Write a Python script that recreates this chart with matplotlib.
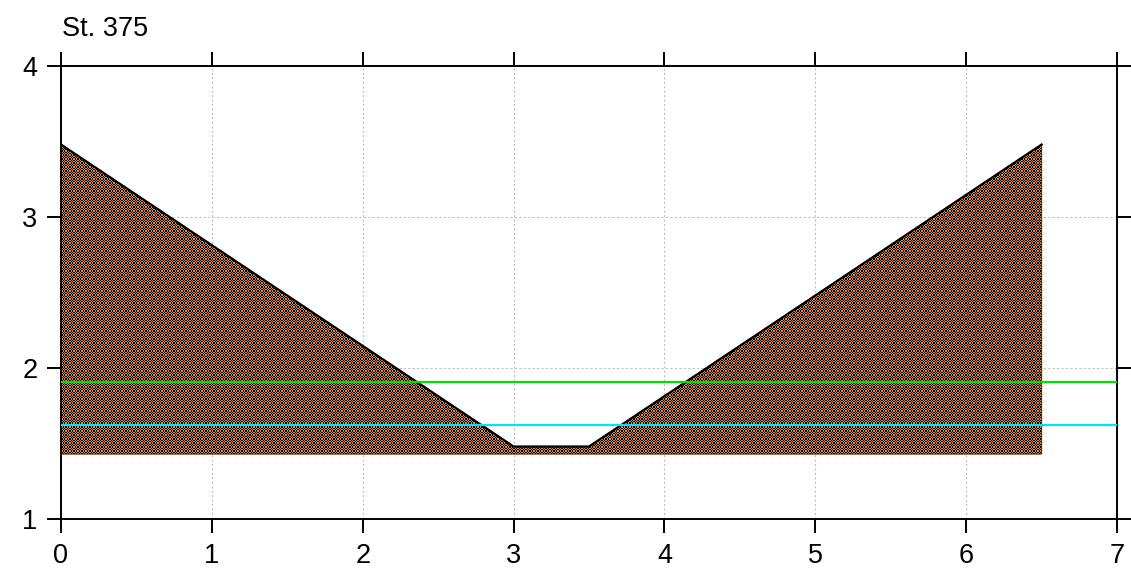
import matplotlib
matplotlib.use('Agg')
import matplotlib.pyplot as plt
from matplotlib.patches import Polygon
import numpy as np

plt.rcParams['font.family'] = ['Liberation Sans', 'DejaVu Sans']

station = "St. 375"
# cross-section profile (station offset, elevation)
profile_x = [0.0, 3.0, 3.5, 6.5]
profile_z = [3.48, 1.48, 1.48, 3.48]
bottom_z = 1.43
# water levels
level_green = 1.91
level_cyan = 1.625

xticks = [0, 1, 2, 3, 4, 5, 6, 7]
yticks = [1, 2, 3, 4]

W, H = 1131, 576
AX_L, AX_R, AX_T, AX_B = 61, 1117, 66, 519
fig = plt.figure(figsize=(W / 100, H / 100), dpi=100)
ax = fig.add_axes([AX_L / W, 1 - AX_B / H, (AX_R - AX_L) / W, (AX_B - AX_T) / H])
ax.set_xlim(xticks[0], xticks[-1])
ax.set_ylim(yticks[0], yticks[-1])

# ground polygon
poly_pts = list(zip(profile_x, profile_z)) + [(profile_x[-1], bottom_z), (profile_x[0], bottom_z)]
poly = Polygon(poly_pts, closed=True, facecolor='none', edgecolor='#5a2a1a', lw=0.8, zorder=2)
ax.add_patch(poly)

# fine orange/black checker texture (screen-pixel sized, slightly uneven cells),
# clipped to the ground polygon
ax_w, ax_h = AX_R - AX_L, AX_B - AX_T
jj, ii = np.indices((ax_h, ax_w))
cell = (np.floor(ii * 0.75) + np.floor(jj * 0.75)).astype(int) % 2
orange = np.array([0.87, 0.54, 0.26])
img = np.ones((ax_h, ax_w, 3)) * orange
img[cell == 1] = 0.0
im = ax.imshow(img, extent=(xticks[0], xticks[-1], yticks[0], yticks[-1]),
               interpolation='nearest', aspect='auto', zorder=1)
im.set_clip_path(poly)

ax.plot(profile_x, profile_z, color='black', lw=1.6, zorder=3)
ax.axhline(level_green, color='#00e000', lw=1.6, zorder=4)
ax.axhline(level_cyan, color='#00e5ff', lw=1.6, zorder=4)

ax.set_xticks(xticks)
ax.set_yticks(yticks)
ax.grid(True, color='#c0c0c0', linestyle=(0, (2, 2)), lw=0.8, zorder=0)
ax.set_axisbelow(True)
ax.tick_params(direction='out', length=10, width=1.4, labelsize=19.5,
               top=True, right=True, labeltop=False, labelright=False)
ax.tick_params(axis='x', pad=7)
ax.tick_params(axis='y', pad=7)
for s in ax.spines.values():
    s.set_linewidth(1.4)

fig.text(62 / W, 1 - 36 / H, station, fontsize=19.5, ha='left', va='baseline')

fig.savefig('out.png', dpi=100)
